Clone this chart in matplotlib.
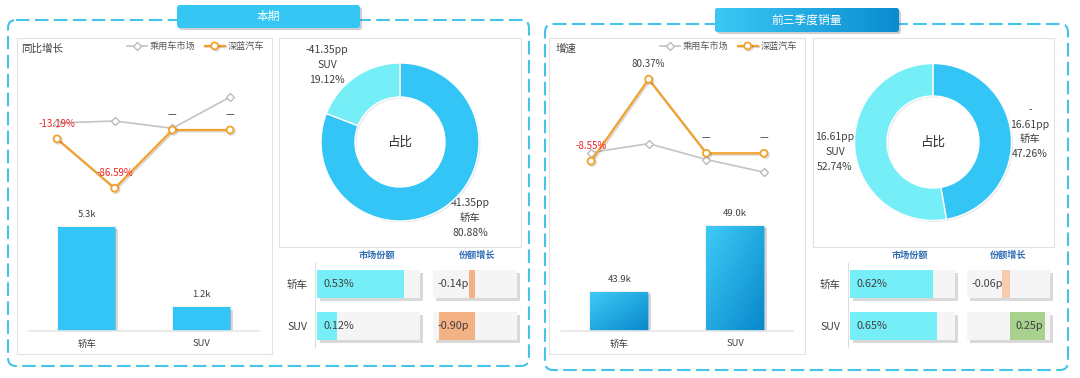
import numpy as np
import matplotlib.pyplot as plt
import matplotlib.patheffects as pe
from matplotlib.patches import FancyBboxPatch
from matplotlib.colors import LinearSegmentedColormap

plt.rcParams['font.family'] = ['Noto Sans CJK SC', 'DejaVu Sans']

# ---- data ----
panel_titles = ['本期', '前三季度销量']
growth_titles = ['同比增长', '增速']
legend_names = ['乘用车市场', '深蓝汽车']
car_types = ['轿车', 'SUV']

market_growth_now = [10.4, 13.4, 2.5, 49.0]
deepal_growth_now = [-13.19, -86.59, None, None]
market_growth_ytd = [0.8, 10.5, -6.8, -20.5]
deepal_growth_ytd = [-8.55, 80.37, None, None]

sales_now = [5300, 1200]
sales_ytd = [43900, 49000]

mix_now = [80.88, 19.12]
mix_ytd = [47.26, 52.74]
mix_change_now = [41.35, -41.35]
mix_change_ytd = [-16.61, 16.61]

market_share_now = [0.53, 0.12]
market_share_ytd = [0.62, 0.65]
share_growth_now = [-0.14, -0.90]
share_growth_ytd = [-0.06, 0.25]

# ---- style ----
W, H = 1080, 378
DARK = '#404040'
CYAN = '#33c5f5'
LIGHT = '#76eef8'
ORANGE = '#f2a22c'
DASH = '#45c3e8'
HEAD = '#2e6db4'

fig = plt.figure(figsize=(W / 100, H / 100), dpi=100)
fig.patch.set_facecolor('white')
bg = fig.add_axes([0, 0, 1, 1])
bg.axis('off')


def px_axes(x0, y0, x1, y1):
    ax = fig.add_axes([x0 / W, 1 - y1 / H, (x1 - x0) / W, (y1 - y0) / H])
    ax.patch.set_alpha(0)
    for s in ax.spines.values():
        s.set_visible(False)
    ax.set_xticks([])
    ax.set_yticks([])
    return ax


def shadow(off=1.5, alpha=0.35):
    return [pe.SimplePatchShadow(offset=(off, -off), shadow_rgbFace='#777777', alpha=alpha), pe.Normal()]


# soft shadow used under the bars
bar_shadow = [pe.Stroke(linewidth=2.5, foreground=(0, 0, 0, 0.05)),
              pe.SimplePatchShadow(offset=(2, -1.5), shadow_rgbFace='#666666', alpha=0.22), pe.Normal()]


def box(x0, y0, x1, y1, style='square,pad=0', **kw):
    p = FancyBboxPatch((x0, y0), x1 - x0, y1 - y0, boxstyle=style, **kw)
    bg.add_patch(p)
    return p


# panels and title tabs
box(8, 20, 529, 366, 'round,pad=0,rounding_size=8', fc='none', ec=DASH, lw=1.5, ls=(0, (6.5, 2.6)))
box(545, 24, 1068, 370, 'round,pad=0,rounding_size=8', fc='none', ec=DASH, lw=1.5, ls=(0, (6.5, 2.6)))

box(177, 5, 360, 28, 'round,pad=0,rounding_size=3', fc='#35c6f4', ec='none', path_effects=shadow(1.5, 0.35))
bg.text(268.5, 16.5, panel_titles[0], color='white', fontsize=8.5, ha='center', va='center')
tab = box(715, 8, 899, 32, 'round,pad=0,rounding_size=3', fc='#1a9ad8', ec='none', path_effects=shadow(1.5, 0.35))
tab_cmap = LinearSegmentedColormap.from_list('tab', ['#3cc8f5', '#0a8ccf'])
im = bg.imshow(np.linspace(0, 1, 100).reshape(1, -1), extent=[715, 899, 32, 8], cmap=tab_cmap, aspect='auto', zorder=3)
im.set_clip_path(tab)
bg.text(807, 20, panel_titles[1], color='white', fontsize=8.5, ha='center', va='center', zorder=4)

# cards
for x0, y0, x1, y1 in [(17, 38, 272, 354), (279, 38, 521, 247), (549, 38, 805, 354), (813, 38, 1054, 247)]:
    box(x0, y0, x1, y1, fc='white', ec='#e2e2e2', lw=0.8, path_effects=shadow(1, 0.15))

bg.set_xlim(0, W)
bg.set_ylim(H, 0)


def line_panel(x0, x1, market, deepal, ylim, title, legend_right):
    ax = px_axes(x0, 60, x1, 200)
    xs = np.arange(len(market))
    l1, = ax.plot(xs, market, color='#c4c4c4', lw=1.2, marker='D', ms=3.8, mfc='white', mec='#bcbcbc', mew=1)
    dv = [0 if v is None else v for v in deepal]
    l2, = ax.plot(xs, dv, color=ORANGE, lw=1.6, marker='o', ms=5, mfc='white', mec=ORANGE, mew=1.3,
                  path_effects=[pe.SimpleLineShadow(offset=(1, -1), alpha=0.15), pe.Normal()])
    for x, v in zip(xs, deepal):
        if v is None:
            txt, c = '—', DARK
        else:
            txt, c = f'{v:.2f}%', ('#f02020' if v < 0 else DARK)
        ax.annotate(txt, (x, 0 if v is None else v), xytext=(0, 11), textcoords='offset points',
                    ha='center', va='center', fontsize=7, color=c)
    ax.set_xlim(-0.5, len(xs) - 0.5)
    ax.set_ylim(*ylim)
    ax.legend([l1, l2], legend_names, ncol=2, loc='center right', bbox_to_anchor=(legend_right / W, 1 - 46.5 / H),
              bbox_transform=fig.transFigure, frameon=False, fontsize=6.6, labelcolor='#595959',
              handlelength=2.2, handletextpad=0.3, columnspacing=1.0, borderpad=0, borderaxespad=0)
    bg.text(x0 - 7, 49, title, fontsize=7.6, color=DARK, va='center')


def bar_panel(x0, x1, vals, ylim, gradient):
    ax = px_axes(x0, 200, x1, 331)
    xs = np.arange(len(vals))
    bars = ax.bar(xs, vals, width=0.5, color=CYAN, path_effects=bar_shadow)
    if gradient:
        cmap = LinearSegmentedColormap.from_list('bar', ['#3fcbf6', '#0888cc'])
        g = np.add.outer(np.linspace(0, 1, 60), np.linspace(0, 1, 60)) / 2
        for b, v in zip(bars, vals):
            img = ax.imshow(g, extent=[b.get_x(), b.get_x() + b.get_width(), ylim[0], v],
                            cmap=cmap, aspect='auto', zorder=3)
            img.set_clip_path(b)
    for x, v in zip(xs, vals):
        ax.annotate(f'{v / 1000:.1f}k', (x, v), xytext=(0, 9), textcoords='offset points',
                    ha='center', va='center', fontsize=6.8, color=DARK)
    ax.set_xlim(-0.5, len(xs) - 0.5)
    ax.set_ylim(*ylim)
    ax.spines['bottom'].set_visible(True)
    ax.spines['bottom'].set_color('#e6e6e6')
    ax.spines['bottom'].set_linewidth(1.2)
    ax.spines['bottom'].set_zorder(5)
    ax.set_xticks(xs, car_types)
    ax.tick_params(axis='x', length=0, pad=6, labelsize=6.8, labelcolor=DARK)


def donut(cx, cy, r_out, r_in, shares):
    ax = px_axes(cx - 100, cy - 100, cx + 100, cy + 100)
    wedges, _ = ax.pie(shares, radius=r_out, startangle=90, counterclock=False, colors=[CYAN, LIGHT],
                       wedgeprops=dict(width=r_out - r_in, edgecolor='white', linewidth=1))
    for w in wedges:
        w.set_path_effects(shadow(1, 0.18))
    ax.set_xlim(-100, 100)
    ax.set_ylim(-100, 100)
    ax.set_aspect('equal')
    ax.text(0, 0, '占比', ha='center', va='center', fontsize=9, color='#262626')


def table(sx0, sx1, share, smax, gx0, gx1, growth, glim, gcolors, head_x):
    rows = np.arange(len(car_types))
    a1 = px_axes(sx0, 262, sx1, 348)
    a1.barh(rows, smax, height=0.667, color='#f5f5f5', clip_on=False, path_effects=shadow(2, 0.28))
    a1.barh(rows, share, height=0.667, color=LIGHT)
    for r, v in zip(rows, share):
        a1.annotate(f'{v:.2f}%', (0, r), xytext=(4.5, 0), textcoords='offset points',
                    va='center', fontsize=7.8, color=DARK)
    a1.set_xlim(0, smax)
    a1.set_ylim(1.524, -0.524)
    a1.set_yticks(rows, car_types)
    a1.tick_params(axis='y', length=0, pad=7, labelsize=7.6, labelcolor=DARK)

    a2 = px_axes(gx0, 262, gx1, 348)
    a2.barh(rows, glim[1] - glim[0], left=glim[0], height=0.667, color='#f5f5f5', clip_on=False,
            path_effects=shadow(2, 0.28))
    a2.barh(rows, growth, height=0.667, color=gcolors)
    for r, v in zip(rows, growth):
        if v < 0:
            a2.annotate(f'{v:.2f}p', (glim[0], r), xytext=(3.5, 0), textcoords='offset points',
                        va='center', ha='left', fontsize=7.8, color=DARK)
        else:
            a2.annotate(f'{v:.2f}p', (v, r), xytext=(-1.5, 0), textcoords='offset points',
                        va='center', ha='right', fontsize=7.8, color=DARK)
    a2.set_xlim(*glim)
    a2.set_ylim(1.524, -0.524)
    bg.plot([sx0 - 2, sx0 - 2], [263, 347], color='#dddddd', lw=0.8)
    bg.text(head_x[0], 255, '市场份额', fontsize=6.6, weight='bold', color=HEAD, ha='center', va='center')
    bg.text(head_x[1], 255, '份额增长', fontsize=6.6, weight='bold', color=HEAD, ha='center', va='center')


# ---- 本期 ----
line_panel(28.2, 258.9, market_growth_now, deepal_growth_now, (-104, 104), growth_titles[0], 264)
bar_panel(29.4, 258.8, sales_now, (0, 6676), False)
donut(400, 142, 79, 45, mix_now)
bg.text(327, 65, f'{mix_change_now[1]:.2f}pp\n{car_types[1]}\n{mix_now[1]:.2f}%', fontsize=7.5, color=DARK,
        ha='center', va='center', linespacing=1.6)
bg.text(470, 218, f'{mix_change_now[0]:.2f}pp\n{car_types[0]}\n{mix_now[0]:.2f}%', fontsize=7.5, color=DARK,
        ha='center', va='center', linespacing=1.6)
table(317, 420, market_share_now, 0.628, 433, 517, share_growth_now, (-1.05, 1.05),
      ['#f4b183', '#f4b183'], (377, 477))

# ---- 前三季度销量 ----
line_panel(562.2, 792.8, market_growth_ytd, deepal_growth_ytd, (-50.7, 101.2), growth_titles[1], 797)
bar_panel(561.4, 792.8, sales_ytd, (40886, 50985), True)
donut(933, 142, 78.5, 46, mix_ytd)
bg.text(1030, 132, f'{mix_change_ytd[0]:.2f}pp'.replace('-', '-\n') + f'\n{car_types[0]}\n{mix_ytd[0]:.2f}%',
        fontsize=7.5, color=DARK, ha='center', va='center', linespacing=1.6)
bg.text(835, 152, f'{mix_change_ytd[1]:.2f}pp\n{car_types[1]}\n{mix_ytd[1]:.2f}%', fontsize=7.5, color=DARK,
        ha='center', va='center', linespacing=1.6)
table(850, 955, market_share_ytd, 0.784, 967, 1050, share_growth_ytd, (-0.307, 0.286),
      ['#f8cbad', '#a9d18e'], (910, 1008))

bg.set_xlim(0, W)
bg.set_ylim(H, 0)

fig.savefig('out.png', dpi=100)
